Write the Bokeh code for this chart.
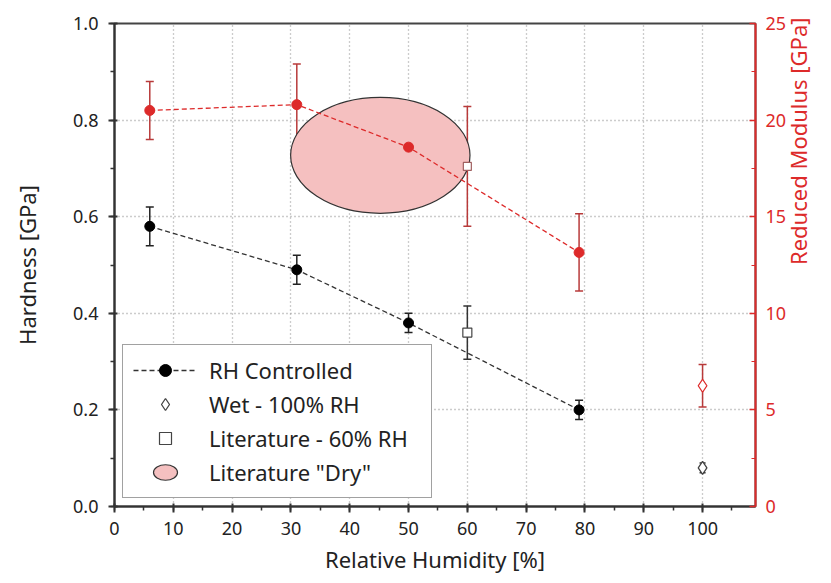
import math
from bokeh.plotting import figure
from bokeh.models import (ColumnDataSource, Range1d, LinearAxis, Whisker, TeeHead,
                          Legend, LegendItem, SingleIntervalTicker, FixedTicker,
                          PrintfTickFormatter)
from bokeh.embed import file_html
from bokeh.resources import INLINE

# ---- data ----
rh = [6, 31, 50, 79]
hardness = [0.58, 0.49, 0.38, 0.20]
hardness_err = [0.04, 0.03, 0.02, 0.02]
modulus = [20.5, 20.8, 18.6, 13.15]
modulus_err = [1.5, 2.1, 2.2, 2.0]

wet_rh = [100]
wet_hardness = [0.08]
wet_hardness_err = [0.01]
wet_modulus = [6.25]
wet_modulus_err = [1.1]

lit_rh = [60]
lit_hardness = [0.36]
lit_hardness_err = [0.055]
lit_modulus = [17.6]
lit_modulus_err = [3.1]

dry_rh_center = [45.2]
dry_rh_width = [30.5]
dry_hardness_center = [0.727]
dry_hardness_height = [0.24]

RED = "#dd2a2a"
RED_DARK = "#b83a3a"
FONT = "Noto Sans"
TICK_FS = "18px"
LABEL_FS = "22px"

p = figure(width=831, height=583, output_backend="svg", toolbar_location=None,
           x_range=Range1d(0, 109), y_range=Range1d(0, 1.0),
           min_border_left=114, min_border_right=68, min_border_top=23, min_border_bottom=77)
p.extra_y_ranges = {"mod": Range1d(0, 25)}

p.outline_line_color = "#444444"
p.outline_line_width = 2
p.background_fill_color = "white"
p.border_fill_color = "white"

# grids
p.xgrid.ticker = FixedTicker(ticks=[10, 20, 30, 40, 50, 60, 70, 80, 90, 100])
p.ygrid.ticker = FixedTicker(ticks=[0.2, 0.4, 0.6, 0.8])
for g in (p.xgrid, p.ygrid):
    g.grid_line_color = "#999999"
    g.grid_line_dash = "1 3"
    g.grid_line_width = 1.3

# axes
p.xaxis.ticker = SingleIntervalTicker(interval=10, num_minor_ticks=2)
p.yaxis.ticker = SingleIntervalTicker(interval=0.2, num_minor_ticks=2)
p.yaxis.formatter = PrintfTickFormatter(format="%.1f")
for ax in (p.xaxis[0], p.yaxis[0]):
    ax.axis_line_color = "#333333"
    ax.axis_line_width = 2
    ax.major_tick_line_color = "#333333"
    ax.minor_tick_line_color = "#333333"
    ax.major_tick_line_width = 2
    ax.minor_tick_line_width = 1.5
    ax.major_tick_in = 3
    ax.major_tick_out = 6
    ax.minor_tick_in = 0
    ax.minor_tick_out = 4
    ax.major_label_text_font = FONT
    ax.major_label_text_font_size = TICK_FS
    ax.major_label_text_color = "#222222"
    ax.axis_label_text_font = FONT
    ax.axis_label_text_font_size = LABEL_FS
    ax.axis_label_text_font_style = "normal"
    ax.axis_label_text_color = "#222222"
p.xaxis.axis_label = "Relative Humidity [%]"
p.yaxis.axis_label = "Hardness [GPa]"
p.xaxis.major_label_standoff = 9
p.xaxis.axis_label_standoff = 6
p.yaxis.major_label_standoff = 10
p.yaxis.axis_label_standoff = 28

rax = LinearAxis(y_range_name="mod", axis_label="Reduced Modulus [GPa]",
                 ticker=SingleIntervalTicker(interval=5, num_minor_ticks=2))
rax.axis_line_color = RED
rax.axis_line_width = 2
rax.major_tick_line_color = RED
rax.minor_tick_line_color = RED
rax.major_tick_line_width = 1.5
rax.major_tick_in = 6
rax.major_tick_out = 0
rax.minor_tick_in = 4
rax.minor_tick_out = 0
rax.major_label_text_color = RED
rax.major_label_text_font = FONT
rax.major_label_text_font_size = TICK_FS
rax.major_label_standoff = 10
rax.axis_label_text_color = RED
rax.axis_label_text_font = FONT
rax.axis_label_text_font_size = LABEL_FS
rax.axis_label_text_font_style = "normal"
rax.axis_label_standoff = 9
rax.axis_label_orientation = math.pi / 2
p.add_layout(rax, "right")

# ellipse (Literature "Dry")
dry_src = ColumnDataSource(dict(x=dry_rh_center, y=dry_hardness_center,
                                w=dry_rh_width, h=dry_hardness_height))
r_dry = p.ellipse(x="x", y="y", width="w", height="h", source=dry_src,
                  fill_color="#f5c0c0", line_color="#333333", line_width=1.2)


def whisker(src, color, y_range_name="default", size=8):
    return Whisker(base="x", lower="lo", upper="hi", source=src, y_range_name=y_range_name,
                   line_color=color, line_width=1.5,
                   upper_head=TeeHead(size=size, line_color=color, line_width=1.5),
                   lower_head=TeeHead(size=size, line_color=color, line_width=1.5))


# modulus series (red)
mod_src = ColumnDataSource(dict(x=rh, y=modulus,
                                lo=[m - e for m, e in zip(modulus, modulus_err)],
                                hi=[m + e for m, e in zip(modulus, modulus_err)]))
p.line("x", "y", source=mod_src, y_range_name="mod", line_color=RED,
       line_dash="5 3", line_width=1.3)
p.add_layout(whisker(mod_src, RED_DARK, "mod"))
p.scatter("x", "y", source=mod_src, y_range_name="mod", size=10, marker="circle",
          fill_color=RED, line_color=RED)

lit_m_src = ColumnDataSource(dict(x=lit_rh, y=lit_modulus,
                                  lo=[lit_modulus[0] - lit_modulus_err[0]],
                                  hi=[lit_modulus[0] + lit_modulus_err[0]]))
p.add_layout(whisker(lit_m_src, RED_DARK, "mod"))
p.scatter("x", "y", source=lit_m_src, y_range_name="mod", size=8, marker="square",
          fill_color="white", line_color="#a06060", line_width=1.2)

wet_m_src = ColumnDataSource(dict(x=wet_rh, y=wet_modulus,
                                  lo=[wet_modulus[0] - wet_modulus_err[0]],
                                  hi=[wet_modulus[0] + wet_modulus_err[0]]))
p.add_layout(whisker(wet_m_src, RED_DARK, "mod"))
p.scatter("x", "y", source=wet_m_src, y_range_name="mod", size=13, marker="diamond",
          fill_color="white", line_color=RED, line_width=1.3)

# hardness series (black)
h_src = ColumnDataSource(dict(x=rh, y=hardness,
                              lo=[h - e for h, e in zip(hardness, hardness_err)],
                              hi=[h + e for h, e in zip(hardness, hardness_err)]))
r_rh = p.line("x", "y", source=h_src, line_color="#333333", line_dash="5 3", line_width=1.3)
p.add_layout(whisker(h_src, "#222222"))
r_rh_pts = p.scatter("x", "y", source=h_src, size=10, marker="circle",
                     fill_color="black", line_color="black")

lit_h_src = ColumnDataSource(dict(x=lit_rh, y=lit_hardness,
                                  lo=[lit_hardness[0] - lit_hardness_err[0]],
                                  hi=[lit_hardness[0] + lit_hardness_err[0]]))
p.add_layout(whisker(lit_h_src, "#333333"))
r_lit = p.scatter("x", "y", source=lit_h_src, size=9, marker="square",
                  fill_color="white", line_color="#444444", line_width=1.2)

wet_h_src = ColumnDataSource(dict(x=wet_rh, y=wet_hardness,
                                  lo=[wet_hardness[0] - wet_hardness_err[0]],
                                  hi=[wet_hardness[0] + wet_hardness_err[0]]))
p.add_layout(whisker(wet_h_src, "#333333", size=6))
r_wet = p.scatter("x", "y", source=wet_h_src, size=13, marker="diamond",
                  fill_color="white", line_color="#444444", line_width=1.3)

legend = Legend(items=[
    LegendItem(label="RH Controlled", renderers=[r_rh, r_rh_pts]),
    LegendItem(label="Wet - 100% RH", renderers=[r_wet]),
    LegendItem(label="Literature - 60% RH", renderers=[r_lit]),
    LegendItem(label='Literature "Dry"', renderers=[r_dry]),
], location=(8, 8))
legend.label_text_font = FONT
legend.label_text_font_size = "22px"
legend.label_text_color = "#222222"
legend.glyph_width = 64
legend.glyph_height = 30
legend.label_height = 30
legend.label_width = 212
legend.spacing = 4
legend.padding = 10
legend.margin = 0
legend.label_standoff = 12
legend.border_line_color = "#444444"
legend.border_line_width = 1.5
legend.background_fill_alpha = 1
p.add_layout(legend)

open("out.html", "w").write(file_html(p, INLINE))
